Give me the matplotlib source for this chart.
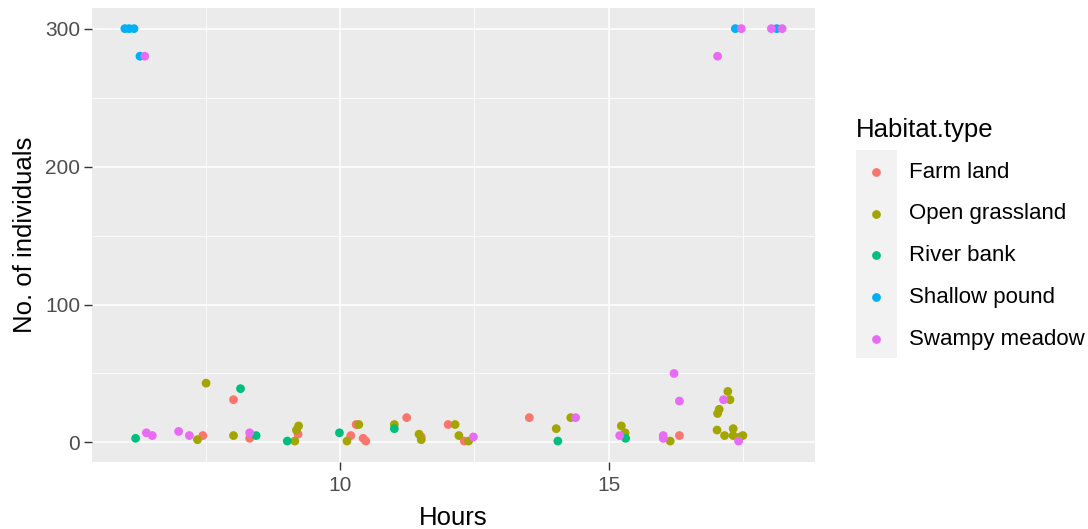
import matplotlib
matplotlib.use("Agg")
import matplotlib.pyplot as plt
from matplotlib.patches import Rectangle
from matplotlib.lines import Line2D
import numpy as np

plt.rcParams['font.family'] = ['Liberation Sans', 'DejaVu Sans']

# Observations per habitat: hour of day and number of individuals counted
habitats = ["Farm land", "Open grassland", "River bank", "Shallow pound", "Swampy meadow"]
colors = ["#F8766D", "#A3A500", "#00BF7D", "#00B0F6", "#E76BF3"]

farm_hours = [7.45, 8.02, 8.32, 9.22, 10.20, 10.30, 10.43, 10.48, 11.24, 11.51, 12.01, 12.31, 13.52, 16.31]
farm_counts = [5, 31, 3, 6, 5, 13, 3, 1, 18, 4, 13, 1, 18, 5]

grass_hours = [7.35, 7.51, 8.02, 9.16, 9.19, 9.23, 10.13, 10.35, 11.01, 11.47, 11.51, 12.14, 12.21,
               12.39, 14.02, 14.29, 15.23, 15.30, 16.14, 17.01, 17.02, 17.05, 17.15, 17.21, 17.25,
               17.31, 17.31, 17.44, 17.49]
grass_counts = [2, 43, 5, 1, 9, 12, 1, 13, 13, 6, 2, 13, 5,
                1, 10, 18, 12, 7, 1, 9, 21, 24, 5, 37, 31,
                10, 5, 4, 5]

river_hours = [6.20, 8.15, 8.44, 9.02, 9.99, 11.01, 14.05, 15.31]
river_counts = [3, 39, 5, 1, 7, 10, 1, 3]

pond_hours = [6.00, 6.08, 6.17, 6.28, 17.35, 18.12]
pond_counts = [300, 300, 300, 280, 300, 300]

swamp_hours = [6.37, 6.40, 6.51, 7.00, 7.20, 8.32, 12.48, 14.38, 15.20, 16.01, 16.01, 16.21,
               16.31, 17.02, 17.13, 17.41, 17.46, 18.02, 18.22]
swamp_counts = [280, 7, 5, 8, 5, 7, 4, 18, 5, 5, 3, 50,
                30, 280, 31, 1, 300, 300, 300]

series = [
    (farm_hours, farm_counts),
    (grass_hours, grass_counts),
    (river_hours, river_counts),
    (pond_hours, pond_counts),
    (swamp_hours, swamp_counts),
]

x_ticks = [10, 15]
y_ticks = [0, 100, 200, 300]

W, H = 1088, 529
fig = plt.figure(figsize=(W / 100, H / 100), dpi=100)
ax = fig.add_axes([92 / W, 1 - 461.7 / H, (815 - 92) / W, (461.7 - 8) / H])
ax.set_facecolor("#EBEBEB")

for (hx, cy), col in zip(series, colors):
    ax.scatter(hx, cy, s=40, color=col, edgecolors="none", zorder=3)

# ggplot-like 5% expansion of the data range
all_x = np.concatenate([np.asarray(s[0]) for s in series])
all_y = np.concatenate([np.asarray(s[1]) for s in series])
xr = all_x.max() - all_x.min()
yr = all_y.max() - all_y.min()
ax.set_xlim(all_x.min() - 0.05 * xr, all_x.max() + 0.05 * xr)
ax.set_ylim(all_y.min() - 0.05 * yr, all_y.max() + 0.05 * yr)

ax.set_xticks(x_ticks)
ax.set_yticks(y_ticks)
ax.set_xticks([7.5, 12.5, 17.5], minor=True)
ax.set_yticks([50, 150, 250], minor=True)
ax.grid(which="major", color="white", linewidth=1.1, zorder=1)
ax.grid(which="minor", color="white", linewidth=0.55, zorder=1)
ax.set_axisbelow(True)
for sp in ax.spines.values():
    sp.set_visible(False)
ax.tick_params(which="major", length=5.5, width=1.0, color="#333333",
               labelsize=15, labelcolor="#4D4D4D", pad=3)
ax.tick_params(axis="x", which="major", pad=5)
ax.tick_params(which="minor", length=0)

ax.set_xlabel("Hours", fontsize=18.5, color="black", labelpad=8)
ax.set_ylabel("No. of individuals", fontsize=18.5, color="black", labelpad=6)

# Legend drawn in figure pixel coordinates
def fx(px):
    return px / W

def fy(py):
    return 1 - py / H

fig.text(fx(856), fy(130), "Habitat.type", fontsize=18.5, color="black",
         ha="left", va="center")
fig.add_artist(Rectangle((fx(855.7), fy(358.3)), fx(896.7) - fx(855.7), fy(150) - fy(358.3),
                         transform=fig.transFigure, facecolor="#F2F2F2", edgecolor="none"))
key_y = [172.3, 214.0, 255.3, 297.3, 339.0]
for name, col, ky in zip(habitats, colors, key_y):
    fig.add_artist(Line2D([fx(876)], [fy(ky)], marker="o", markersize=6.3, color=col,
                          markeredgewidth=0, linestyle="none", transform=fig.transFigure))
    fig.text(fx(909), fy(ky), name, fontsize=16, color="black", ha="left", va="center")

fig.savefig("out.png", dpi=100)
